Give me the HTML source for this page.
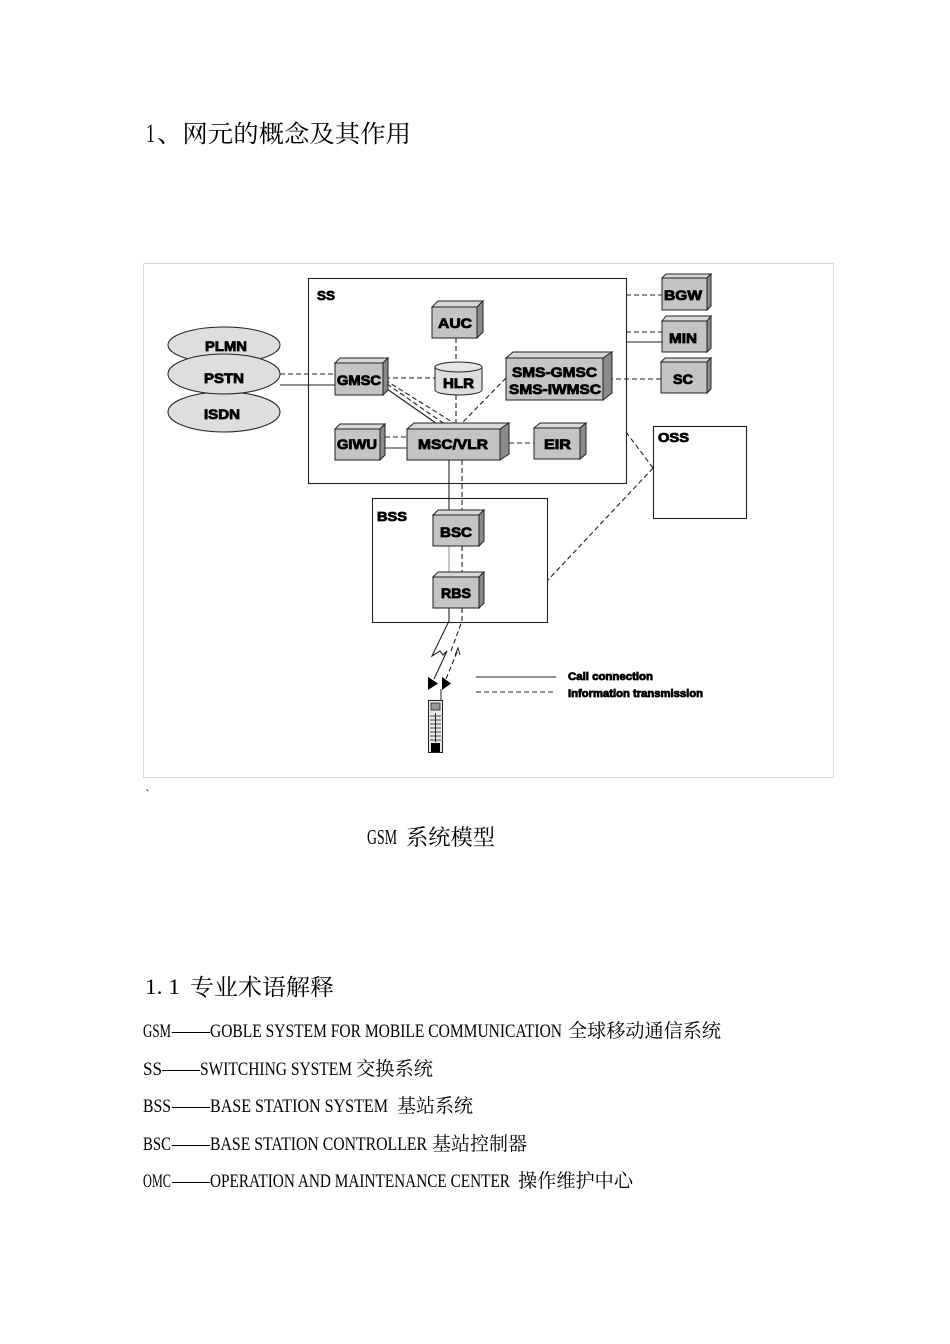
<!DOCTYPE html>
<html><head><meta charset="utf-8"><style>
html,body{margin:0;padding:0;background:#fff;}
svg{display:block;}
.cj{font-family:"Noto Serif CJK SC","Noto Sans CJK SC",serif;}
.la{font-family:"Liberation Serif",serif;}
.lb{font-family:"Liberation Sans",Arial,sans-serif;font-weight:bold;fill:#000;stroke:#000;stroke-width:0.8;}
.ln{stroke:#222;stroke-width:1.1;fill:none;}
.ds{stroke:#222;stroke-width:1.1;fill:none;stroke-dasharray:5,3;}
.ft{fill:#c4c4c4;stroke:#222;stroke-width:1;}
.tp{fill:#d8d8d8;stroke:#222;stroke-width:1;}
.rt{fill:#8a8a8a;stroke:#222;stroke-width:1;}
</style></head><body>
<svg width="950" height="1344" viewBox="0 0 950 1344" xmlns="http://www.w3.org/2000/svg">
<!-- title -->
<text class="la" x="146" y="142" font-size="26" textLength="9" lengthAdjust="spacingAndGlyphs">1</text>
<text class="cj" x="157" y="142" font-size="24" textLength="254" lengthAdjust="spacingAndGlyphs">、网元的概念及其作用</text>

<!-- diagram frame -->
<rect x="143.5" y="263.5" width="690" height="514" fill="none" stroke="#d9d9d9" stroke-width="1"/>

<!-- SS box -->
<rect x="308.5" y="278.5" width="318" height="205" fill="none" stroke="#222" stroke-width="1.1"/>
<text class="lb" x="317" y="300" font-size="13" textLength="18" lengthAdjust="spacingAndGlyphs">SS</text>

<!-- connectors -->
<line class="ds" x1="280" y1="374" x2="335" y2="374"/>
<line class="ln" x1="280" y1="385" x2="335" y2="385"/>
<line class="ds" x1="385" y1="378" x2="435" y2="378"/>
<line class="ds" x1="385" y1="380" x2="457" y2="425"/>
<line class="ds" x1="387" y1="384" x2="446" y2="425"/>
<line class="ln" x1="387" y1="389" x2="443" y2="428"/>
<line class="ds" x1="456" y1="338" x2="456" y2="362"/>
<line class="ds" x1="456" y1="395" x2="456" y2="423"/>
<line class="ds" x1="506" y1="378" x2="460" y2="425"/>
<line class="ds" x1="385" y1="437" x2="407" y2="437"/>
<line class="ln" x1="380" y1="448" x2="407" y2="448"/>
<line class="ds" x1="509" y1="443" x2="534" y2="443"/>
<line class="ds" x1="626" y1="295" x2="662" y2="295"/>
<line class="ds" x1="626" y1="332" x2="662" y2="332"/>
<line class="ln" x1="626" y1="342" x2="662" y2="342"/>
<line class="ds" x1="608" y1="379" x2="662" y2="379"/>
<line class="ds" x1="626" y1="432" x2="653" y2="468"/>
<line class="ds" x1="653" y1="468" x2="548" y2="580"/>
<line class="ln" x1="449" y1="460" x2="449" y2="512"/>
<line class="ds" x1="462" y1="460" x2="462" y2="512"/>
<line x1="449" y1="546" x2="449" y2="577" stroke="#999" stroke-width="1.1"/>
<line class="ds" x1="462" y1="546" x2="462" y2="577"/>

<!-- ellipses -->
<ellipse cx="224" cy="345" rx="56" ry="18" fill="#dedede" stroke="#222" stroke-width="1"/>
<ellipse cx="224" cy="412" rx="56" ry="20" fill="#dedede" stroke="#222" stroke-width="1"/>
<ellipse cx="224" cy="374" rx="56" ry="20" fill="#dedede" stroke="#222" stroke-width="1"/>
<text class="lb" x="205" y="351" font-size="14" textLength="42" lengthAdjust="spacingAndGlyphs">PLMN</text>
<text class="lb" x="204" y="383" font-size="14" textLength="40" lengthAdjust="spacingAndGlyphs">PSTN</text>
<text class="lb" x="204" y="419" font-size="14" textLength="36" lengthAdjust="spacingAndGlyphs">ISDN</text>

<!-- AUC -->
<polygon class="tp" points="432,307 438,301 483,301 477,307"/>
<polygon class="rt" points="477,307 483,301 483,332 477,338"/>
<rect class="ft" x="432" y="307" width="45" height="31"/>
<text class="lb" x="438" y="328" font-size="14" textLength="34" lengthAdjust="spacingAndGlyphs">AUC</text>

<!-- GMSC -->
<polygon class="tp" points="335,363 340,358 388,358 383,363"/>
<polygon class="rt" points="383,363 388,358 388,390 383,395"/>
<rect class="ft" x="335" y="363" width="48" height="32"/>
<text class="lb" x="337" y="385" font-size="14" textLength="44" lengthAdjust="spacingAndGlyphs">GMSC</text>

<!-- HLR cylinder -->
<path d="M435,367 L435,390 A23.5,5 0 0 0 482,390 L482,367" fill="#dedede" stroke="#222" stroke-width="1"/>
<ellipse cx="458.5" cy="367" rx="23.5" ry="5" fill="#e6e6e6" stroke="#222" stroke-width="1"/>
<text class="lb" x="443" y="388" font-size="14" textLength="31" lengthAdjust="spacingAndGlyphs">HLR</text>

<!-- SMS -->
<polygon class="tp" points="506,358 513,352 612,352 603,358"/>
<polygon class="rt" points="603,358 612,352 612,393 603,400"/>
<rect class="ft" x="506" y="358" width="97" height="42"/>
<text class="lb" x="512" y="377" font-size="14" textLength="85" lengthAdjust="spacingAndGlyphs">SMS-GMSC</text>
<text class="lb" x="509" y="394" font-size="14" textLength="92" lengthAdjust="spacingAndGlyphs">SMS-IWMSC</text>

<!-- GIWU -->
<polygon class="tp" points="335,429 340,424 385,424 380,429"/>
<polygon class="rt" points="380,429 385,424 385,455 380,460"/>
<rect class="ft" x="335" y="429" width="45" height="31"/>
<text class="lb" x="337" y="449" font-size="14" textLength="40" lengthAdjust="spacingAndGlyphs">GIWU</text>

<!-- MSC/VLR -->
<polygon class="tp" points="407,429 414,423 509,423 500,429"/>
<polygon class="rt" points="500,429 509,423 509,454 500,460"/>
<rect class="ft" x="407" y="429" width="93" height="31"/>
<text class="lb" x="418" y="449" font-size="14" textLength="70" lengthAdjust="spacingAndGlyphs">MSC/VLR</text>

<!-- EIR -->
<polygon class="tp" points="534,428 540,423 586,423 580,428"/>
<polygon class="rt" points="580,428 586,423 586,454 580,459"/>
<rect class="ft" x="534" y="428" width="46" height="31"/>
<text class="lb" x="544" y="449" font-size="14" textLength="27" lengthAdjust="spacingAndGlyphs">EIR</text>

<!-- BGW -->
<polygon class="tp" points="662,278 666,274 711,274 707,278"/>
<polygon class="rt" points="707,278 711,274 711,306 707,310"/>
<rect class="ft" x="662" y="278" width="45" height="32"/>
<text class="lb" x="664" y="300" font-size="14" textLength="38" lengthAdjust="spacingAndGlyphs">BGW</text>

<!-- MIN -->
<polygon class="tp" points="662,321 666,316 711,316 707,321"/>
<polygon class="rt" points="707,321 711,316 711,348 707,352"/>
<rect class="ft" x="662" y="321" width="45" height="31"/>
<text class="lb" x="669" y="343" font-size="14" textLength="28" lengthAdjust="spacingAndGlyphs">MIN</text>

<!-- SC -->
<polygon class="tp" points="661,362 665,358 711,358 707,362"/>
<polygon class="rt" points="707,362 711,358 711,389 707,393"/>
<rect class="ft" x="661" y="362" width="46" height="31"/>
<text class="lb" x="673" y="384" font-size="14" textLength="20" lengthAdjust="spacingAndGlyphs">SC</text>

<!-- OSS -->
<rect x="653.5" y="426.5" width="93" height="92" fill="#fff" stroke="#222" stroke-width="1.1"/>
<text class="lb" x="658" y="442" font-size="13" textLength="31" lengthAdjust="spacingAndGlyphs">OSS</text>

<!-- BSS -->
<rect x="372.5" y="498.5" width="175" height="124" fill="none" stroke="#222" stroke-width="1.1"/>
<text class="lb" x="377" y="521" font-size="13" textLength="30" lengthAdjust="spacingAndGlyphs">BSS</text>

<!-- BSC -->
<polygon class="tp" points="433,515 438,510 484,510 479,515"/>
<polygon class="rt" points="479,515 484,510 484,541 479,546"/>
<rect class="ft" x="433" y="515" width="46" height="31"/>
<text class="lb" x="440" y="537" font-size="14" textLength="32" lengthAdjust="spacingAndGlyphs">BSC</text>

<!-- RBS -->
<polygon class="tp" points="433,577 438,572 484,572 479,577"/>
<polygon class="rt" points="479,577 484,572 484,603 479,608"/>
<rect class="ft" x="433" y="577" width="46" height="31"/>
<text class="lb" x="441" y="598" font-size="14" textLength="30" lengthAdjust="spacingAndGlyphs">RBS</text>

<!-- radio link -->
<path class="ln" d="M449,608 L449,621 L432,656 L440,651 L443,655 L447,651 L434,679"/>
<path class="ds" d="M462,608 L462,621 L451,651"/>
<path class="ds" d="M457,652 L446,679"/>
<path d="M455,655 L458,648 L460,655" fill="none" stroke="#222" stroke-width="1"/>
<polygon points="428,677 428,690 438,683.5" fill="#000"/>
<polygon points="442,677 442,690 451,683.5" fill="#000"/>

<!-- phone -->
<line x1="441" y1="689" x2="441" y2="700" stroke="#222" stroke-width="1"/>
<rect x="428.5" y="700.5" width="14" height="52" fill="#e8e8e8" stroke="#222" stroke-width="1"/>
<rect x="431" y="703" width="9" height="7" fill="#999" stroke="#222" stroke-width="0.8"/>
<line x1="435.5" y1="713" x2="435.5" y2="742" stroke="#222" stroke-width="1"/>
<g stroke="#222" stroke-width="0.8">
<line x1="430" y1="716" x2="441" y2="716"/>
<line x1="430" y1="720" x2="441" y2="720"/>
<line x1="430" y1="724" x2="441" y2="724"/>
<line x1="430" y1="728" x2="441" y2="728"/>
<line x1="430" y1="732" x2="441" y2="732"/>
<line x1="430" y1="736" x2="441" y2="736"/>
<line x1="430" y1="740" x2="441" y2="740"/>
</g>
<rect x="431" y="743" width="9" height="9" fill="#000"/>

<!-- legend -->
<line class="ln" x1="476" y1="677" x2="556" y2="677"/>
<line class="ds" x1="476" y1="692" x2="556" y2="692"/>
<text class="lb" x="568" y="680" font-size="11" textLength="85" lengthAdjust="spacingAndGlyphs" stroke-width="0.4">Call connection</text>
<text class="lb" x="568" y="697" font-size="11" textLength="135" lengthAdjust="spacingAndGlyphs" stroke-width="0.3">Information transmission</text>

<!-- backtick -->
<text class="la" x="145" y="799" font-size="14" fill="#333">`</text>

<!-- caption -->
<text class="la" x="367" y="844" font-size="21" textLength="30" lengthAdjust="spacingAndGlyphs">GSM</text>
<text class="cj" x="406" y="845" font-size="22" textLength="89" lengthAdjust="spacingAndGlyphs">系统模型</text>

<!-- section heading -->
<text class="la" x="145" y="994" font-size="22" textLength="35" lengthAdjust="spacingAndGlyphs">1. 1</text>
<text class="cj" x="190" y="995" font-size="23" textLength="144" lengthAdjust="spacingAndGlyphs">专业术语解释</text>

<!-- list -->
<g font-size="19">
<text class="la" x="143" y="1037" textLength="28" lengthAdjust="spacingAndGlyphs">GSM</text>
<text class="la" x="172" y="1037" textLength="38" lengthAdjust="spacingAndGlyphs">——</text>
<text class="la" x="210" y="1037" textLength="352" lengthAdjust="spacingAndGlyphs">GOBLE SYSTEM FOR MOBILE COMMUNICATION</text>
<text class="cj" x="568" y="1037" textLength="153" lengthAdjust="spacingAndGlyphs">全球移动通信系统</text>

<text class="la" x="143" y="1075" textLength="19" lengthAdjust="spacingAndGlyphs">SS</text>
<text class="la" x="162" y="1075" textLength="38" lengthAdjust="spacingAndGlyphs">——</text>
<text class="la" x="200" y="1075" textLength="152" lengthAdjust="spacingAndGlyphs">SWITCHING SYSTEM</text>
<text class="cj" x="356" y="1075" textLength="77" lengthAdjust="spacingAndGlyphs">交换系统</text>

<text class="la" x="143" y="1112" textLength="28" lengthAdjust="spacingAndGlyphs">BSS</text>
<text class="la" x="172" y="1112" textLength="38" lengthAdjust="spacingAndGlyphs">——</text>
<text class="la" x="210" y="1112" textLength="178" lengthAdjust="spacingAndGlyphs">BASE STATION SYSTEM</text>
<text class="cj" x="397" y="1112" textLength="76" lengthAdjust="spacingAndGlyphs">基站系统</text>

<text class="la" x="143" y="1150" textLength="28" lengthAdjust="spacingAndGlyphs">BSC</text>
<text class="la" x="172" y="1150" textLength="38" lengthAdjust="spacingAndGlyphs">——</text>
<text class="la" x="210" y="1150" textLength="217" lengthAdjust="spacingAndGlyphs">BASE STATION CONTROLLER</text>
<text class="cj" x="432" y="1150" textLength="95" lengthAdjust="spacingAndGlyphs">基站控制器</text>

<text class="la" x="143" y="1187" textLength="28" lengthAdjust="spacingAndGlyphs">OMC</text>
<text class="la" x="172" y="1187" textLength="38" lengthAdjust="spacingAndGlyphs">——</text>
<text class="la" x="210" y="1187" textLength="300" lengthAdjust="spacingAndGlyphs">OPERATION AND MAINTENANCE CENTER</text>
<text class="cj" x="518" y="1187" textLength="115" lengthAdjust="spacingAndGlyphs">操作维护中心</text>
</g>
</svg>
</body></html>
